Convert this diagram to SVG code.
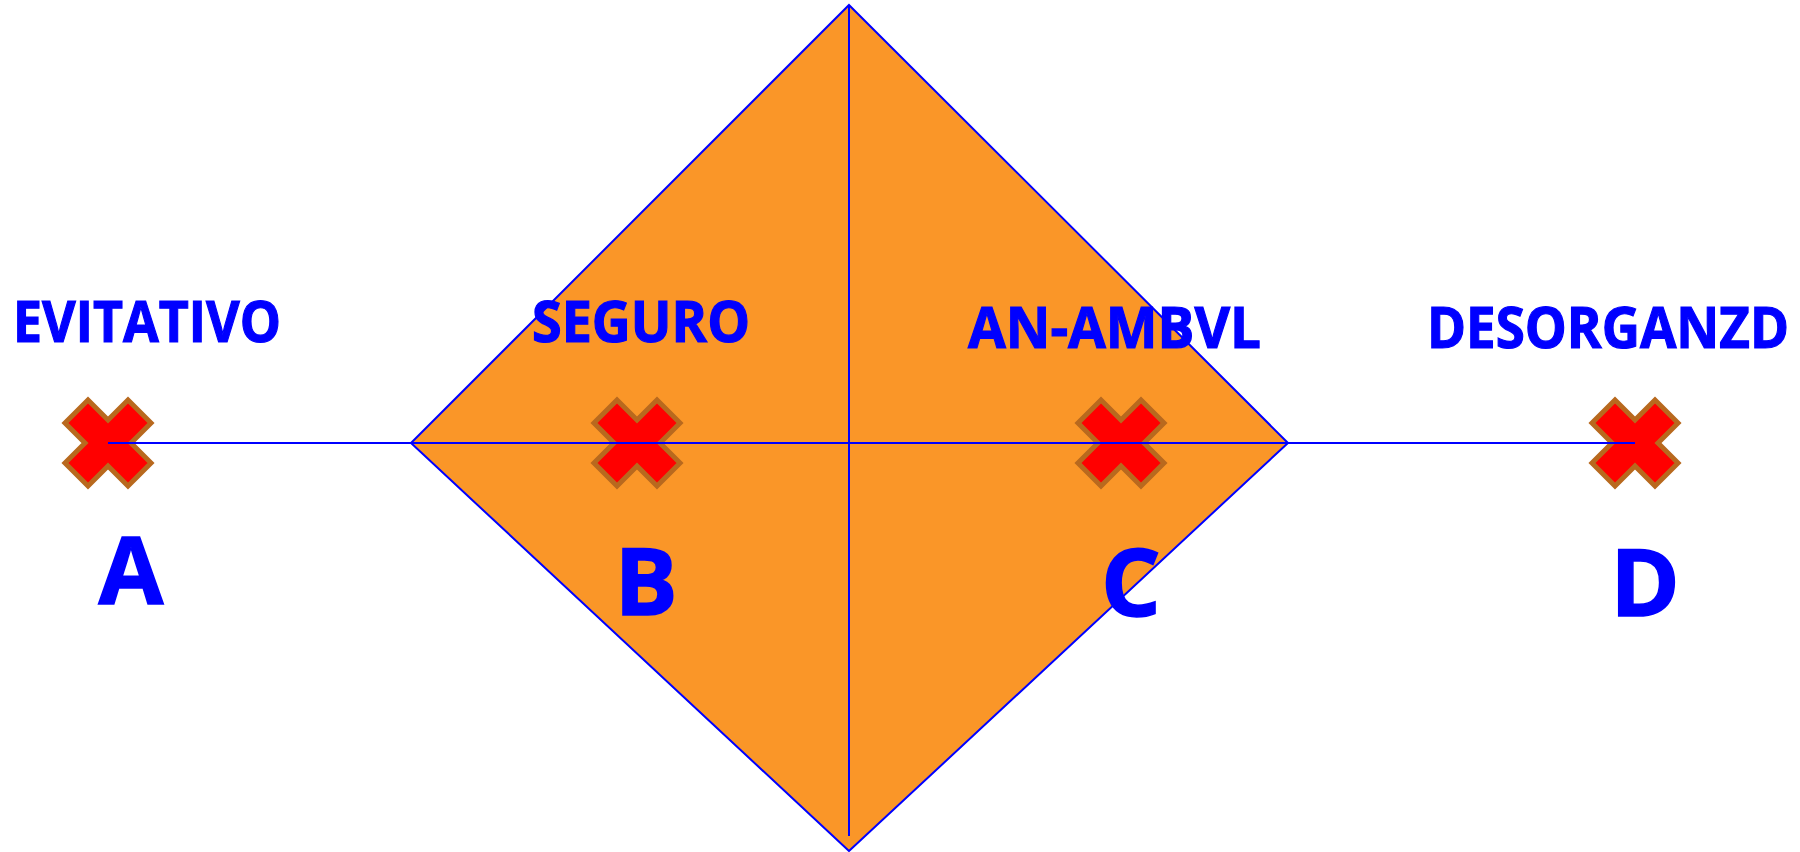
<svg xmlns="http://www.w3.org/2000/svg" xmlns:xlink="http://www.w3.org/1999/xlink" width="1800" height="852" viewBox="0 0 1800 852">
<style>
.lbl{font-family:"Open Sans","Liberation Sans",sans-serif;font-weight:700;fill:#0000FF;stroke:#0000FF;stroke-width:1.2;font-size:57px}
.big{font-family:"Open Sans","Liberation Sans",sans-serif;font-weight:700;fill:#0000FF;stroke:#0000FF;stroke-width:1.5;font-size:94px;text-anchor:middle}
.ln{stroke:#0000FF;stroke-width:2;fill:none}
.x{fill:#FF0000;stroke:#B8691E;stroke-width:5;stroke-linejoin:miter}
</style>
<defs>
<polygon id="cross" class="x" points="0,-23 20,-43 43,-20 23,0 43,20 20,43 0,23 -20,43 -43,20 -23,0 -43,-20 -20,-43"/>
</defs>
<rect width="1800" height="852" fill="#FFFFFF"/>
<g id="diamond">
<polygon points="849,5 1288,443 849,851 411,443" fill="#FA9628"/>
</g>
<g id="crosses">
<use xlink:href="#cross" x="108" y="443"/>
<use xlink:href="#cross" x="637" y="443"/>
<use xlink:href="#cross" x="1121" y="443"/>
<use xlink:href="#cross" x="1635" y="443"/>
</g>
<g id="node-A">
<text class="lbl" x="13" y="342" textLength="268" lengthAdjust="spacingAndGlyphs">EVITATIVO</text>
<text class="big" x="131" y="604">A</text>
</g>
<g id="node-B">
<text class="lbl" x="532" y="342" textLength="218" lengthAdjust="spacingAndGlyphs">SEGURO</text>
<text class="big" x="646" y="615">B</text>
</g>
<g id="node-C">
<text class="lbl" x="968" y="348" textLength="293" lengthAdjust="spacingAndGlyphs">AN-AMBVL</text>
<text class="big" x="1131" y="616">C</text>
</g>
<g id="node-D">
<text class="lbl" x="1427" y="348" textLength="362" lengthAdjust="spacingAndGlyphs">DESORGANZD</text>
<text class="big" x="1645" y="616">D</text>
</g>
<g id="connectors">
<polygon class="ln" points="849,5 1288,443 849,851 411,443"/>
<line class="ln" x1="849" y1="5" x2="849" y2="836"/>
<line class="ln" x1="108" y1="443" x2="1635" y2="443"/>
</g>
</svg>
